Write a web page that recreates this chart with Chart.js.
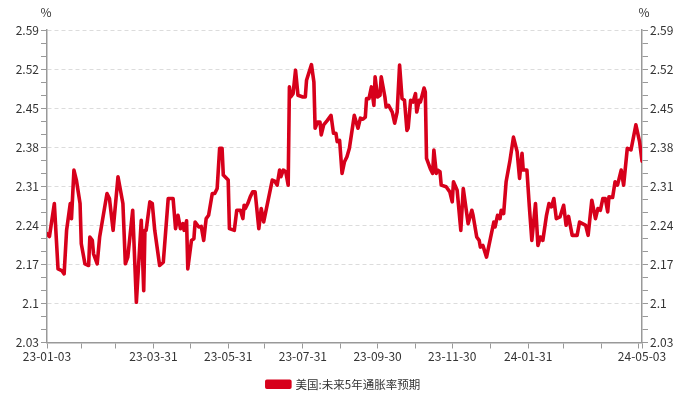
<!DOCTYPE html>
<html>
<head>
<meta charset="utf-8">
<script src="https://cdn.jsdelivr.net/npm/chart.js@4.4.1/dist/chart.umd.min.js"></script>
<style>
  html, body { margin: 0; padding: 0; background: #fff; }
  #wrap { width: 687px; height: 397px; }
</style>
</head>
<body>
<div id="wrap"><canvas id="inflChart"></canvas></div>
<script>
// donnees (jours depuis 2023-01-03)
const startDate = Date.UTC(2023, 0, 3);
const dayOffsets = [0, 2, 6, 9, 12, 14, 16, 19, 20, 22, 24, 27, 28, 31, 34, 35, 37, 38, 41, 43,
  49, 51, 54, 58, 62, 64, 66, 70, 73, 77, 79, 80, 81, 84, 86, 88, 92, 95, 99, 103,
  105, 107, 109, 111, 112, 114, 115, 118, 120, 121, 124, 126, 128, 130, 132, 135, 137, 139, 141, 143,
  144, 148, 149, 153, 155, 158, 160, 161, 162, 164, 166, 168, 170, 173, 175, 177, 184, 186, 188, 190,
  191, 193, 195, 197, 198, 199, 201, 203, 205, 209, 211, 212, 216, 218, 219, 221, 223, 224, 226, 229,
  232, 234, 236, 237, 239, 241, 243, 245, 247, 251, 254, 256, 258, 260, 261, 263, 265, 267, 268, 270,
  272, 273, 276, 277, 279, 282, 284, 286, 288, 290, 292, 294, 295, 297, 299, 301, 302, 304, 305, 308,
  309, 310, 313, 315, 316, 318, 319, 321, 322, 326, 329, 331, 332, 335, 338, 340, 344, 347, 348, 351,
  353, 354, 356, 359, 361, 365, 366, 368, 370, 371, 373, 375, 378, 381, 384, 386, 388, 389, 392, 394,
  396, 399, 401, 403, 405, 408, 410, 412, 414, 416, 419, 422, 424, 426, 429, 433, 435, 440, 442, 445,
  448, 450, 452, 454, 456, 458, 459, 462, 464, 466, 469, 471, 474, 477, 481, 484, 486];
const values = [2.225, 2.22, 2.279, 2.162, 2.159, 2.153, 2.231, 2.279, 2.252, 2.339, 2.321, 2.279, 2.207, 2.171, 2.168, 2.219, 2.213, 2.189, 2.171, 2.219,
  2.297, 2.288, 2.231, 2.327, 2.279, 2.171, 2.183, 2.267, 2.102, 2.249, 2.123, 2.231, 2.231, 2.282, 2.279, 2.231, 2.168, 2.174, 2.288, 2.288,
  2.234, 2.258, 2.234, 2.243, 2.231, 2.248, 2.162, 2.213, 2.216, 2.246, 2.237, 2.238, 2.213, 2.252, 2.258, 2.297, 2.297, 2.306, 2.378, 2.378,
  2.33, 2.321, 2.234, 2.231, 2.267, 2.267, 2.252, 2.276, 2.27, 2.279, 2.291, 2.30, 2.30, 2.234, 2.27, 2.246, 2.321, 2.319, 2.312, 2.339,
  2.327, 2.339, 2.336, 2.312, 2.488, 2.47, 2.476, 2.518, 2.473, 2.47, 2.47, 2.50, 2.528, 2.497, 2.414, 2.425, 2.425, 2.402, 2.42, 2.428,
  2.437, 2.405, 2.405, 2.39, 2.392, 2.333, 2.354, 2.363, 2.378, 2.437, 2.414, 2.432, 2.43, 2.434, 2.467, 2.467, 2.488, 2.455, 2.506, 2.47,
  2.473, 2.506, 2.47, 2.452, 2.455, 2.443, 2.423, 2.443, 2.527, 2.467, 2.464, 2.41, 2.414, 2.464, 2.461, 2.476, 2.443, 2.464, 2.461, 2.486,
  2.479, 2.36, 2.342, 2.333, 2.375, 2.333, 2.339, 2.336, 2.312, 2.309, 2.30, 2.282, 2.318, 2.303, 2.231, 2.306, 2.243, 2.267, 2.258, 2.219,
  2.213, 2.201, 2.204, 2.183, 2.204, 2.246, 2.237, 2.258, 2.252, 2.267, 2.261, 2.318, 2.354, 2.398, 2.372, 2.324, 2.369, 2.339, 2.339, 2.273,
  2.213, 2.279, 2.204, 2.219, 2.213, 2.258, 2.279, 2.273, 2.288, 2.252, 2.255, 2.276, 2.24, 2.256, 2.222, 2.222, 2.246, 2.24, 2.222, 2.285,
  2.252, 2.27, 2.267, 2.288, 2.288, 2.264, 2.291, 2.29, 2.318, 2.312, 2.339, 2.312, 2.378, 2.375, 2.42, 2.39, 2.355];
const seriesName = '美国:未来5年通胀率预期';
const yTickLabels = ['2.03', '2.1', '2.17', '2.24', '2.31', '2.38', '2.45', '2.52', '2.59'];
const xTickLabels = ['23-01-03', '23-03-31', '23-05-31', '23-07-31', '23-09-30', '23-11-30', '24-01-31', '24-05-03'];
const unitLabel = '%';

const DAY = 86400000;
const lastDay = dayOffsets[dayOffsets.length - 1];

function fmt(off) {
  const d = new Date(startDate + off * DAY);
  const p = n => String(n).padStart(2, '0');
  return p(d.getUTCFullYear() % 100) + '-' + p(d.getUTCMonth() + 1) + '-' + p(d.getUTCDate());
}

// graduations : debut, fins de mois, fin
const xTickPos = [0];
for (let m = 0; m < 16; m++) {
  const t = Date.UTC(2023, m + 1, 0);
  xTickPos.push(Math.round((t - startDate) / DAY));
}
xTickPos.push(lastDay);

const yMin = parseFloat(yTickLabels[0]);
const yMax = parseFloat(yTickLabels[yTickLabels.length - 1]);
const yStep = (yMax - yMin) / (yTickLabels.length - 1) / 3;

const fontMain = { family: "'Noto Sans CJK SC', 'Noto Sans', sans-serif", size: 12 };

function yAxis(pos) {
  return {
    type: 'linear',
    position: pos,
    min: yMin,
    max: yMax,
    afterBuildTicks: s => {
      const t = [];
      for (let i = 0; i <= (yTickLabels.length - 1) * 3; i++) t.push({ value: yMin + i * yStep });
      s.ticks = t;
    },
    afterFit: s => { s.width = pos === 'left' ? 47 : 45; },
    ticks: {
      autoSkip: false,
      padding: 2,
      color: '#333',
      font: fontMain,
      callback: (v, i) => (i % 3 === 0 ? yTickLabels[i / 3] : '')
    },
    grid: {
      drawOnChartArea: pos === 'left',
      color: c => (c.index % 3 === 0 ? '#dcdcdc' : 'rgba(0,0,0,0)'),
      tickColor: '#999',
      tickLength: 6
    },
    border: { display: true, color: '#999', width: 1.5, dash: [4, 3] }
  };
}

const unitPlugin = {
  id: 'unitPlugin',
  afterDraw(chart) {
    const c = chart.ctx;
    const a = chart.chartArea;
    c.save();
    c.fillStyle = '#333';
    c.font = "12px 'Noto Sans CJK SC', 'Noto Sans', sans-serif";
    c.textAlign = 'center';
    c.textBaseline = 'middle';
    c.fillText(unitLabel, a.left - 1, 12);
    c.fillText(unitLabel, a.right + 2, 12);
    c.restore();
  }
};

new Chart(document.getElementById('inflChart'), {
  type: 'line',
  data: {
    datasets: [{
      label: seriesName,
      data: dayOffsets.map((d, i) => ({ x: d, y: values[i] })),
      borderColor: '#d7001b',
      backgroundColor: '#d7001b',
      borderWidth: 3.6,
      borderJoinStyle: 'round',
      borderCapStyle: 'round',
      pointRadius: 0,
      tension: 0,
      yAxisID: 'y'
    }]
  },
  options: {
    responsive: true,
    maintainAspectRatio: false,
    animation: false,
    layout: { padding: { top: 30, left: 0, right: 0, bottom: -3 } },
    scales: {
      x: {
        type: 'linear',
        min: 0,
        max: lastDay,
        afterBuildTicks: s => { s.ticks = xTickPos.map(v => ({ value: v })); },
        afterFit: s => { s.height = 33; },
        ticks: {
          autoSkip: false,
          maxRotation: 0,
          padding: 1,
          color: '#333',
          font: fontMain,
          callback: v => {
            const lab = fmt(v);
            return xTickLabels.includes(lab) ? lab : '';
          }
        },
        grid: { drawOnChartArea: false, color: '#999', tickLength: 6 },
        border: { display: true, color: '#999', width: 1.5 }
      },
      y: yAxis('left'),
      y2: yAxis('right')
    },
    plugins: {
      legend: {
        position: 'bottom',
        labels: {
          boxWidth: 23,
          boxHeight: 6,
          color: '#333',
          font: { family: fontMain.family, size: 11.5 },
          padding: 3
        }
      },
      tooltip: { enabled: false }
    }
  },
  plugins: [unitPlugin]
});
</script>
</body>
</html>
